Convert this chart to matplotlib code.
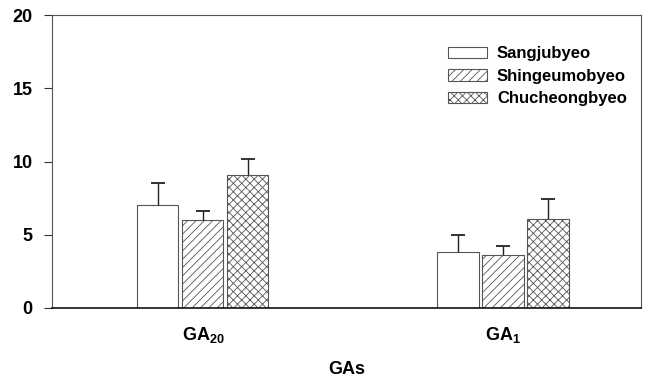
import matplotlib
matplotlib.use("Agg")
import matplotlib.pyplot as plt
import numpy as np

plt.rcParams['font.family'] = ['Liberation Sans', 'DejaVu Sans']
plt.rcParams['mathtext.fontset'] = 'custom'
plt.rcParams['mathtext.rm'] = 'Liberation Sans'
plt.rcParams['mathtext.bf'] = 'Liberation Sans:bold'
plt.rcParams['hatch.linewidth'] = 0.6

categories = [r'$\mathbf{GA}_{\mathbf{20}}$', r'$\mathbf{GA}_{\mathbf{1}}$']
series_names = ['Sangjubyeo', 'Shingeumobyeo', 'Chucheongbyeo']
sangju = [7.0, 3.8]
shingeumo = [6.0, 3.6]
chucheong = [9.1, 6.1]
sangju_err = [1.5, 1.15]
shingeumo_err = [0.6, 0.6]
chucheong_err = [1.1, 1.35]
yticks = [0, 5, 10, 15, 20]

fig = plt.figure(figsize=(6.53, 3.83), dpi=100)
ax = fig.add_axes([52/653, 1-308/383, 589/653, 293/383])

x = np.arange(len(categories))
width = 0.137
offsets = [-0.15, 0.0, 0.15]
hatches = ['', '////', 'xxxx']
vals = [sangju, shingeumo, chucheong]
errs = [sangju_err, shingeumo_err, chucheong_err]

for v, e, off, h, name in zip(vals, errs, offsets, hatches, series_names):
    v = np.asarray(v)
    e = np.asarray(e)
    ax.bar(x + off, v, width, color='white', edgecolor='#555555', linewidth=0.8,
           hatch=h, label=name, zorder=2)
    ax.errorbar(x + off, v, yerr=[np.zeros(len(e)), e], fmt='none', ecolor='#222222',
                elinewidth=1.0, capsize=0, zorder=3)
    ax.plot(x + off, v + e, linestyle='none', marker='_', markersize=9.5,
            markeredgewidth=1.3, color='#222222', zorder=3)

ax.set_xlim(-0.503, 1.46)
ax.set_ylim(0, 20)
ax.set_yticks(yticks)
ax.set_yticklabels([str(t) for t in yticks], fontsize=13, fontweight='bold')
ax.set_xticks(x)
ax.set_xticklabels(categories, fontsize=13)
ax.tick_params(axis='x', length=0, pad=12)
ax.tick_params(axis='y', direction='out', length=6, width=0.8, pad=8, color='#333333')
ax.set_xlabel('GAs', fontsize=13, fontweight='bold', labelpad=12)

for s in ['top', 'right', 'left']:
    ax.spines[s].set_color('#555555')
    ax.spines[s].set_linewidth(0.8)
ax.spines['bottom'].set_color('#111111')
ax.spines['bottom'].set_linewidth(1.2)

leg = ax.legend(loc='upper left', bbox_to_anchor=(0.672, 0.893), frameon=False,
                prop={'size': 12, 'weight': 'bold'}, handlelength=2.35, handleheight=0.65,
                handletextpad=0.6, labelspacing=0.45, borderpad=0, borderaxespad=0)

fig.savefig('out.png', dpi=100)
